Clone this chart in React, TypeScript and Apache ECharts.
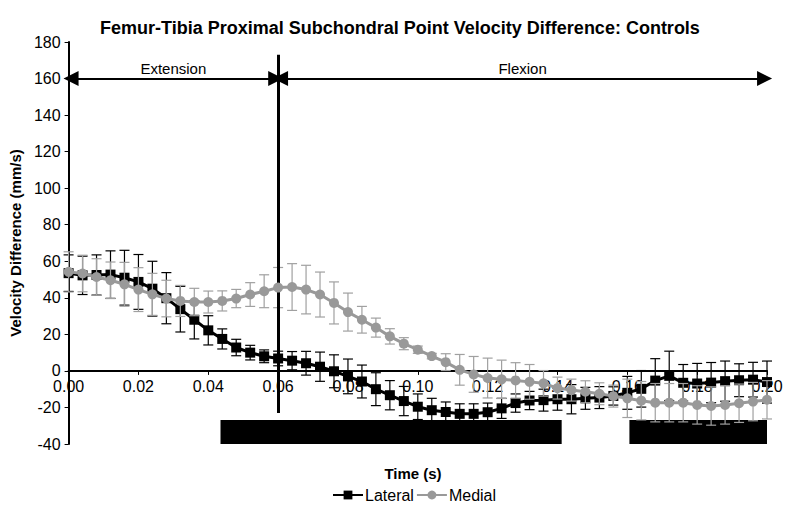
import React, { useEffect, useRef } from "react";
import * as echarts from "echarts";

const TITLE = "Femur-Tibia Proximal Subchondral Point Velocity Difference: Controls";
const X_NAME = "Time (s)";
const Y_NAME = "Velocity Difference (mm/s)";

const TIME = [
  0.0, 0.004, 0.008, 0.012, 0.016, 0.02, 0.024, 0.028, 0.032, 0.036,
  0.04, 0.044, 0.048, 0.052, 0.056, 0.06, 0.064, 0.068, 0.072, 0.076,
  0.08, 0.084, 0.088, 0.092, 0.096, 0.1, 0.104, 0.108, 0.112, 0.116,
  0.12, 0.124, 0.128, 0.132, 0.136, 0.14, 0.144, 0.148, 0.152, 0.156,
  0.16, 0.164, 0.168, 0.172, 0.176, 0.18, 0.184, 0.188, 0.192, 0.196, 0.2,
];

const LATERAL = [
  53.5, 52.3, 52.5, 52.7, 51, 48.7, 45, 39.8, 33.8, 28,
  22.2, 17.5, 12.8, 10, 8, 6.8, 5.6, 4.2, 2.3, -0.2,
  -3, -5.8, -10, -13.3, -16.5, -19.6, -21.5, -22.5, -23.5, -23.5,
  -22.6, -20.5, -17.6, -16.2, -16, -15.5, -15.5, -15, -14.6, -13.7,
  -12, -9.8, -5.3, -2.7, -6.5, -6.9, -6.4, -5.6, -5.1, -4.8, -6.1,
];

const LATERAL_ERR = [
  10, 10.5, 11, 13, 15, 15, 15, 14, 12.5, 10.5,
  8, 5.5, 4.5, 4, 3.5, 4, 5, 6.5, 8, 9,
  9.5, 9, 9, 8, 8, 7, 6.5, 5.5, 5.5, 5.5,
  5, 5.5, 5, 5, 6, 6, 8, 6, 6, 5,
  9, 10, 12, 13.5, 10, 11, 11, 11, 9, 9.5, 11.5,
];

const MEDIAL = [
  54.2, 53.3, 51.4, 49.6, 47.4, 44.5, 41.9, 39.6, 38.3, 37.7,
  37.7, 38.3, 39.6, 41.8, 43.6, 45.6, 45.9, 44.5, 41.8, 37.2,
  32.2, 28, 23.7, 18.9, 14.9, 11.6, 8.1, 4.8, 0.6, -1.9,
  -3.9, -4.6, -5.2, -6, -6.8, -9.4, -10.5, -11.4, -12.5, -13.8,
  -15, -16.3, -17.4, -17.4, -17.4, -18.6, -19.2, -18.6, -17.7, -16.8, -15.8,
];

const MEDIAL_ERR = [
  11, 10, 10, 10, 12, 12, 11.5, 10, 8.5, 7.5,
  6, 5.5, 5, 6.5, 9, 11, 12.8, 13.3, 12.3, 11.5,
  10.4, 7.3, 5.2, 4.2, 3.3, 2, 1.5, 4.6, 8.4, 9.8,
  10.9, 10.5, 9.7, 9.5, 7, 6, 6, 6, 6, 6,
  10.5, 10.5, 10.5, 10.5, 10.5, 10.5, 10.5, 10.5, 10.5, 10.5, 10.5,
];

const PHASES = [
  { name: "Extension", from: 0.0, to: 0.06 },
  { name: "Flexion", from: 0.06, to: 0.2 },
];
const PHASE_Y = 160;
const DIVIDER_X = 0.06;
const DIVIDER_Y = [173, -23];

const SIG_REGIONS = [
  [0.0435, 0.1412],
  [0.1606, 0.2],
];
const SIG_Y = [-26.8, -40];

const Y_MIN = -40;
const Y_MAX = 180;
const Y_STEP = 20;
const X_MIN = 0;
const X_MAX = 0.2;
const X_STEP = 0.02;

const FONT = "'Liberation Sans', Arial, Helvetica, sans-serif";

const GRID = { left: 62, right: 33, top: 42, bottom: 70 };
const CHART_H = 514;

function errorBars(name: string, vals: number[], errs: number[], color: string, z: number) {
  return {
    type: "custom",
    name,
    silent: true,
    z,
    encode: { x: 0, y: [1, 2] },
    data: TIME.map((t, i) => [t, vals[i] - errs[i], vals[i] + errs[i]]),
    renderItem: (_params: any, api: any) => {
      const x = api.value(0);
      const top = api.coord([x, api.value(2)]);
      const bot = api.coord([x, api.value(1)]);
      const w = 5;
      const style = { stroke: color, lineWidth: 1.2 };
      return {
        type: "group",
        children: [
          { type: "line", shape: { x1: top[0], y1: top[1], x2: bot[0], y2: bot[1] }, style },
          { type: "line", shape: { x1: top[0] - w, y1: top[1], x2: top[0] + w, y2: top[1] }, style },
          { type: "line", shape: { x1: bot[0] - w, y1: bot[1], x2: bot[0] + w, y2: bot[1] }, style },
        ],
      };
    },
  };
}

export default function App() {
  const ref = useRef<HTMLDivElement>(null);

  useEffect(() => {
    if (!ref.current) return;
    const chart = echarts.init(ref.current, undefined, { renderer: "svg" });
    const gap = 0.0007;
    const gridH = CHART_H - GRID.top - GRID.bottom;
    // move the x axis (line, ticks and labels) from the grid bottom up to y = 0
    const zeroOffset = -((0 - Y_MIN) / (Y_MAX - Y_MIN)) * gridH;

    const option: any = {
      animation: false,
      backgroundColor: "#fff",
      textStyle: { fontFamily: FONT },
      title: {
        text: TITLE,
        left: "center",
        top: 14,
        textStyle: { fontFamily: FONT, fontSize: 18, fontWeight: "bold", color: "#000" },
      },
      grid: { ...GRID, containLabel: false },
      legend: {
        data: ["Lateral", "Medial"],
        left: 327,
        top: 482,
        itemWidth: 30,
        itemHeight: 11,
        itemGap: 2,
        textStyle: { fontFamily: FONT, fontSize: 16, color: "#000", padding: [0, 0, 0, -3] },
      },
      xAxis: {
        type: "value",
        min: X_MIN,
        max: X_MAX,
        interval: X_STEP,
        offset: zeroOffset,
        axisLine: { show: true, onZero: false, lineStyle: { color: "#000", width: 2 } },
        axisTick: { show: true, length: 4, lineStyle: { color: "#000", width: 1 } },
        axisLabel: {
          margin: 8,
          fontSize: 16,
          color: "#000",
          fontFamily: FONT,
          formatter: (v: number) => v.toFixed(2),
        },
        splitLine: { show: false },
      },
      yAxis: {
        type: "value",
        min: Y_MIN,
        max: Y_MAX,
        interval: Y_STEP,
        name: Y_NAME,
        nameLocation: "middle",
        nameGap: 41,
        nameTextStyle: { fontFamily: FONT, fontSize: 15, fontWeight: "bold", color: "#000" },
        axisLine: { show: true, lineStyle: { color: "#000", width: 2 } },
        axisTick: { show: true, length: 4, lineStyle: { color: "#000", width: 1 } },
        axisLabel: { margin: 8, fontSize: 16, color: "#000", fontFamily: FONT },
        splitLine: { show: false },
      },
      graphic: [
        {
          type: "text",
          x: 413,
          y: 473,
          style: {
            text: X_NAME,
            font: `bold 15px ${FONT}`,
            fill: "#000",
            align: "center",
            verticalAlign: "middle",
          },
        },
      ],
      series: [
        errorBars("Lateral SD", LATERAL, LATERAL_ERR, "#000", 2),
        {
          type: "line",
          name: "Lateral",
          z: 3,
          data: TIME.map((t, i) => [t, LATERAL[i]]),
          symbol: "rect",
          symbolSize: 10,
          lineStyle: { color: "#000", width: 3 },
          itemStyle: { color: "#000" },
          markArea: {
            silent: true,
            itemStyle: { color: "#000" },
            data: SIG_REGIONS.map((r) => [
              { coord: [r[0], SIG_Y[0]] },
              { coord: [r[1], SIG_Y[1]] },
            ]),
          },
          markLine: {
            silent: true,
            symbol: ["triangle", "triangle"],
            symbolSize: [15, 15],
            lineStyle: { color: "#000", width: 2, type: "solid" },
            label: {
              show: true,
              position: "insideMiddleTop",
              distance: 3,
              formatter: "{b}",
              color: "#000",
              fontSize: 15,
              fontFamily: FONT,
            },
            data: PHASES.map((p) => [
              { name: p.name, coord: [p.from + gap, PHASE_Y] },
              { coord: [p.to - gap, PHASE_Y] },
            ]),
          },
        },
        errorBars("Medial SD", MEDIAL, MEDIAL_ERR, "#a0a0a0", 4),
        {
          type: "line",
          name: "Medial",
          z: 5,
          data: TIME.map((t, i) => [t, MEDIAL[i]]),
          symbol: "circle",
          symbolSize: 10,
          lineStyle: { color: "#999", width: 3 },
          itemStyle: { color: "#999" },
          markLine: {
            silent: true,
            symbol: ["none", "none"],
            lineStyle: { color: "#000", width: 3, type: "solid" },
            label: { show: false },
            data: [[{ coord: [DIVIDER_X, DIVIDER_Y[0]] }, { coord: [DIVIDER_X, DIVIDER_Y[1]] }]],
          },
        },
      ],
    };

    chart.setOption(option);
    return () => chart.dispose();
  }, []);

  return <div ref={ref} style={{ width: 800, height: 514, position: "absolute", left: 0, top: 0 }} />;
}
